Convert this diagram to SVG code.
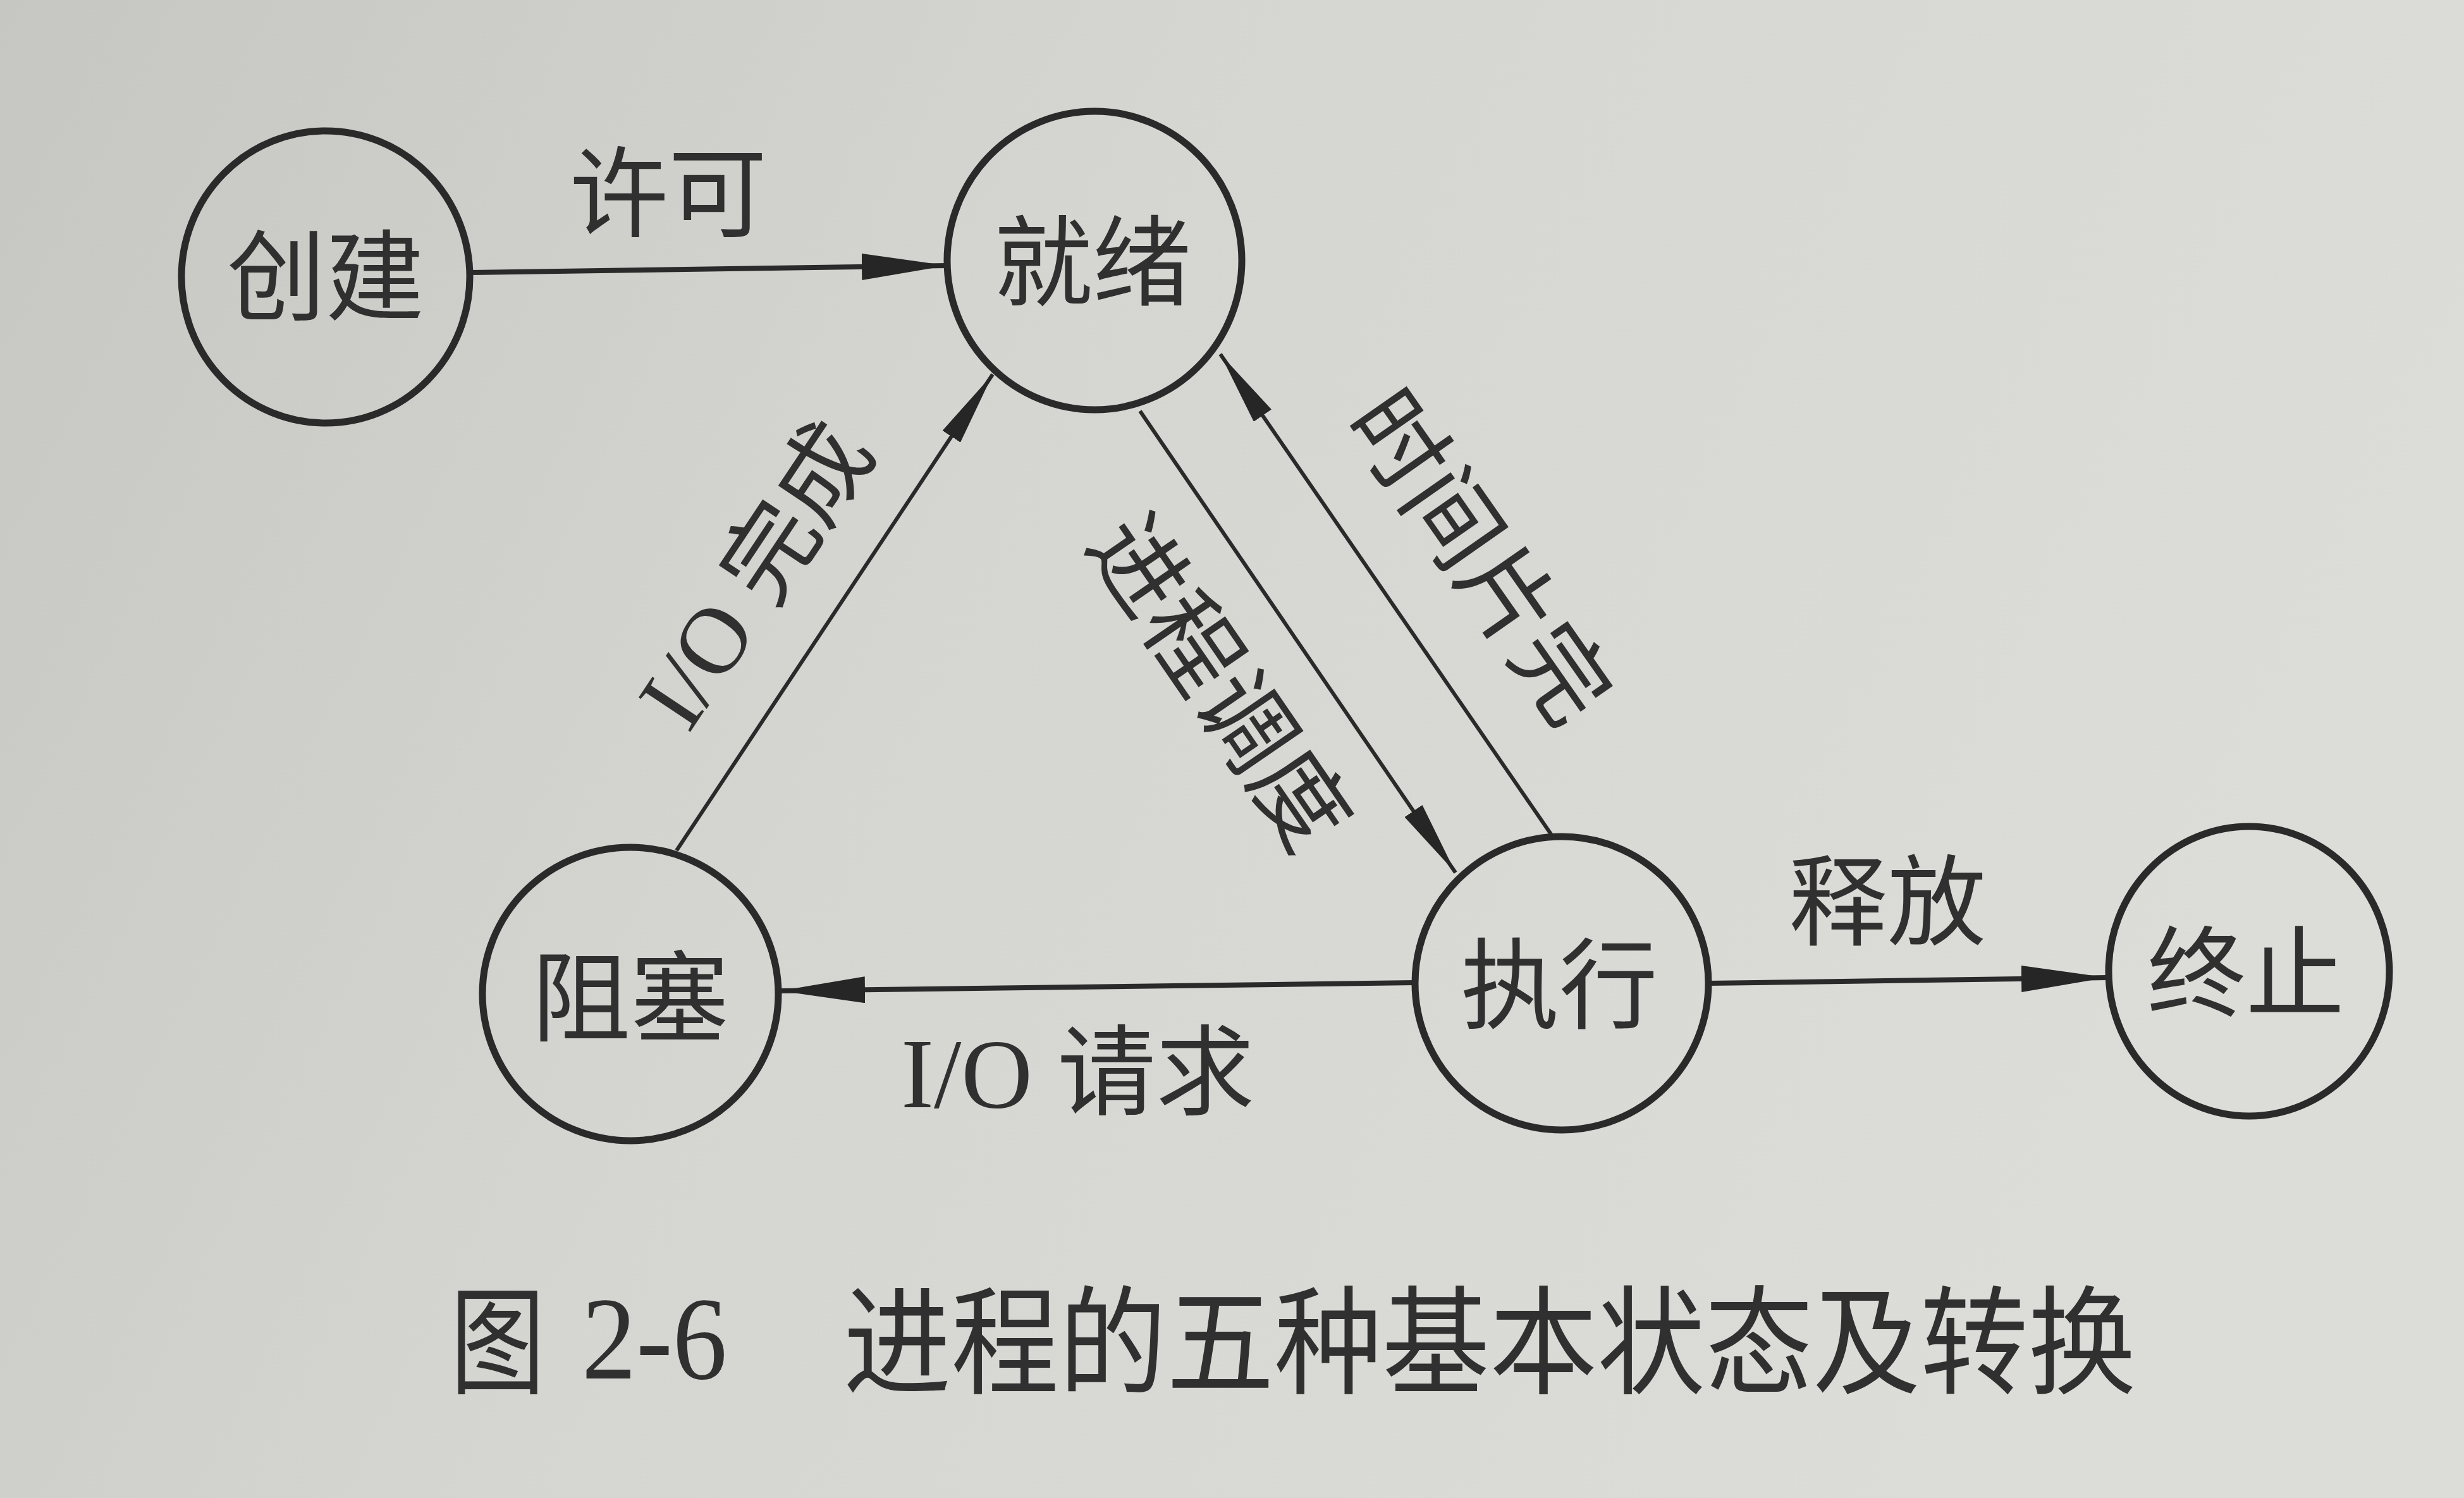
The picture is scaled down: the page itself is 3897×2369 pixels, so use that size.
<svg xmlns="http://www.w3.org/2000/svg" width="3897" height="2369" viewBox="0 0 3897 2369">
  <defs>
    <linearGradient id="bg" x1="0" y1="0" x2="1" y2="0.3">
      <stop offset="0" stop-color="#c6c6c2"/>
      <stop offset="0.45" stop-color="#d5d5d1"/>
      <stop offset="1" stop-color="#dcdcd8"/>
    </linearGradient>
    <marker id="arrowBig" markerUnits="userSpaceOnUse" markerWidth="135" markerHeight="42" refX="135" refY="21" orient="auto">
      <path d="M0,0 L135,21 L0,42 Z" fill="#262626"/>
    </marker>
    <marker id="arrowSmall" markerUnits="userSpaceOnUse" markerWidth="118" markerHeight="34" refX="118" refY="17" orient="auto">
      <path d="M0,0 L118,17 L0,34 Z" fill="#262626"/>
    </marker>
  </defs>
  <style>
    .node { fill: none; stroke: #2a2a2a; stroke-width: 11; }
    .lbl { font-family: "Noto Sans CJK SC", "Noto Sans CJK JP", sans-serif; font-size: 156px; fill: #303030; text-anchor: middle; }
    .rot { font-size: 150px; }
    .cap { font-family: "Noto Sans CJK SC", "Noto Sans CJK JP", sans-serif; font-size: 186px; fill: #303030; }
    .lat { font-family: "Liberation Serif", "DejaVu Serif", serif; }
    .h { stroke: #2a2a2a; stroke-width: 8; fill: none; }
    .d { stroke: #2a2a2a; stroke-width: 6; fill: none; }
  </style>

  <rect x="0" y="0" width="3897" height="2369" fill="url(#bg)"/>

  <g id="connectors">
    <line class="h" x1="743" y1="431" x2="1498" y2="420" marker-end="url(#arrowBig)"/>
    <line class="d" x1="1070" y1="1345" x2="1570" y2="592" marker-end="url(#arrowSmall)"/>
    <line class="d" x1="1803" y1="650" x2="2302" y2="1380" marker-end="url(#arrowSmall)"/>
    <line class="d" x1="2455" y1="1322" x2="1930" y2="560" marker-end="url(#arrowSmall)"/>
    <line class="h" x1="2238" y1="1554" x2="1233" y2="1567" marker-end="url(#arrowBig)"/>
    <line class="h" x1="2702" y1="1555" x2="3332" y2="1546" marker-end="url(#arrowBig)"/>
  </g>

  <g id="edge-labels">
    <text class="lbl" x="1057" y="362">许可</text>
    <text class="lbl" x="2985" y="1482">释放</text>
    <text class="lbl" x="1425" y="1751" style="text-anchor:start"><tspan class="lat">I/O </tspan>请求</text>
    <g transform="translate(1192,908) rotate(-56.3)">
      <text class="lbl rot" x="0" y="55"><tspan class="lat">I/O </tspan>完成</text>
    </g>
    <g transform="translate(1930,1078) rotate(55.5)">
      <text class="lbl rot" x="0" y="55">进程调度</text>
    </g>
    <g transform="translate(2342,880) rotate(55)">
      <text class="lbl rot" x="0" y="55">时间片完</text>
    </g>
  </g>

  <g id="node-create">
    <ellipse class="node" cx="515" cy="438" rx="228" ry="231"/>
    <text class="lbl" x="515" y="494">创建</text>
  </g>
  <g id="node-ready">
    <ellipse class="node" cx="1731" cy="412" rx="233" ry="236"/>
    <text class="lbl" x="1728" y="471">就绪</text>
  </g>
  <g id="node-blocked">
    <ellipse class="node" cx="997" cy="1572" rx="234" ry="232"/>
    <text class="lbl" x="997" y="1634">阻塞</text>
  </g>
  <g id="node-running">
    <ellipse class="node" cx="2470" cy="1555" rx="232" ry="232"/>
    <text class="lbl" x="2466" y="1614">执行</text>
  </g>
  <g id="node-exit">
    <ellipse class="node" cx="3557" cy="1536" rx="222" ry="229"/>
    <text class="lbl" x="3552" y="1595">终止</text>
  </g>

  <g id="caption">
    <text class="cap" x="712" y="2190" textLength="150" lengthAdjust="spacingAndGlyphs">图</text>
    <text class="cap" x="920" y="2180" textLength="230" lengthAdjust="spacingAndGlyphs" style="font-family:'Liberation Serif','DejaVu Serif',serif">2-6</text>
    <text class="cap" x="1334" y="2190" textLength="2044" lengthAdjust="spacingAndGlyphs">进程的五种基本状态及转换</text>
  </g>
</svg>
